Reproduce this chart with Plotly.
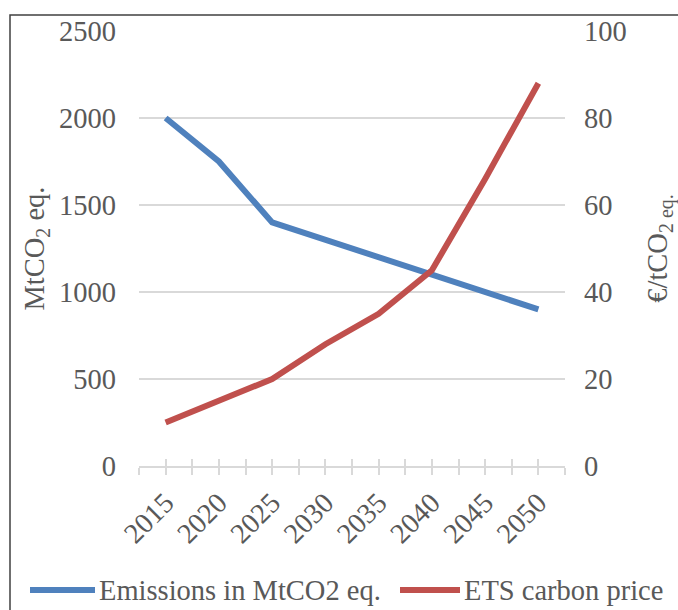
import plotly.graph_objects as go

years = [2015, 2020, 2025, 2030, 2035, 2040, 2045, 2050]
emissions = [2000, 1750, 1400, 1300, 1200, 1100, 1000, 900]
carbon_price = [10, 15, 20, 28, 35, 45, 66, 88]
left_ticks = [0, 500, 1000, 1500, 2000, 2500]
right_ticks = [0, 20, 40, 60, 80, 100]
series_names = ["Emissions in MtCO2 eq.", "ETS carbon price"]
series_colors = ["#4F81BD", "#C0504D"]

W, H = 678, 610
L, R, T, B = 139, 113, 31, 144
pw, ph = W - L - R, H - T - B

def px(xp):
    return (xp - L) / pw

def py(yp):
    return (T + ph - yp) / ph

FONT = "Liberation Serif"
GREY = "#595959"
GRID = "#d9d9d9"
FS = 28.5

fig = go.Figure()
fig.add_trace(go.Scatter(x=years, y=emissions, mode="lines", name=series_names[0],
                         line=dict(color=series_colors[0], width=6), yaxis="y", showlegend=False))
fig.add_trace(go.Scatter(x=years, y=carbon_price, mode="lines", name=series_names[1],
                         line=dict(color=series_colors[1], width=6), yaxis="y2", showlegend=False))
# invisible trace to carry the overlay x axis (inner half of crossing ticks)
fig.add_trace(go.Scatter(x=[years[0]], y=[emissions[0]], xaxis="x2", yaxis="y", mode="markers",
                         marker=dict(opacity=0), showlegend=False, hoverinfo="skip"))

xr = [years[0] - 2.5, years[-1] + 2.5]
fig.update_layout(
    width=W, height=H,
    margin=dict(l=L, r=R, t=T, b=B),
    paper_bgcolor="white", plot_bgcolor="white",
    font=dict(family=FONT, color=GREY, size=FS),
    xaxis=dict(range=xr, tickvals=years, ticktext=[str(y) for y in years], tickangle=-45,
               ticks="outside", ticklen=7, tickcolor=GRID, tickwidth=1.5, automargin=False,
               minor=dict(tick0=2012.5, dtick=5, ticks="outside", ticklen=7, tickcolor=GRID, tickwidth=1.5),
               showline=True, linecolor=GRID, linewidth=1.5, showgrid=False, zeroline=False,
               tickfont=dict(size=FS, color=GREY, family=FONT)),
    xaxis2=dict(range=xr, overlaying="x", anchor="y", tickvals=years, showticklabels=False,
                ticks="inside", ticklen=7, tickcolor=GRID, tickwidth=1.5, automargin=False,
                minor=dict(tick0=2012.5, dtick=5, ticks="inside", ticklen=7, tickcolor=GRID, tickwidth=1.5),
                showline=False, showgrid=False, zeroline=False),
    yaxis=dict(range=[0, 2500], tickvals=left_ticks, showgrid=True, gridcolor=GRID, gridwidth=1.5,
               zeroline=False, showline=False, ticks="", ticklabelstandoff=22, automargin=False,
               title=dict(text="MtCO<sub>2</sub> eq.", standoff=6, font=dict(size=FS, color=GREY)),
               tickfont=dict(size=FS, color=GREY)),
    yaxis2=dict(range=[0, 100], tickvals=right_ticks, overlaying="y", side="right", showgrid=False,
                zeroline=False, showline=False, ticks="", ticklabelstandoff=18, automargin=False,
                title=dict(text="€/tCO<sub>2 eq.</sub>", standoff=24, font=dict(size=FS, color=GREY)),
                tickfont=dict(size=FS, color=GREY)),
    showlegend=False,
)

# custom legend (line sample + label) at the bottom
legend_items = [(30, 95, 97), (400, 460, 462)]
for (x0, x1, xt), name, col in zip(legend_items, series_names, series_colors):
    fig.add_shape(type="line", xref="paper", yref="paper", x0=px(x0), x1=px(x1), y0=py(590), y1=py(590),
                  line=dict(color=col, width=6))
    fig.add_annotation(xref="paper", yref="paper", x=px(xt), y=py(590), text=name, showarrow=False,
                       xanchor="left", yanchor="middle", font=dict(size=FS, color=GREY, family=FONT))

# outer chart frame (top-left corner visible, right/bottom outside the canvas)
fig.add_shape(type="rect", xref="paper", yref="paper",
              x0=px(10), x1=px(W + 60), y0=py(H + 60), y1=py(15),
              line=dict(color="#404040", width=1.5), fillcolor="rgba(0,0,0,0)", layer="below")

fig.write_html("out.html", config={"displayModeBar": False},
               post_script="document.body.style.margin='0';document.body.style.overflow='hidden';")
